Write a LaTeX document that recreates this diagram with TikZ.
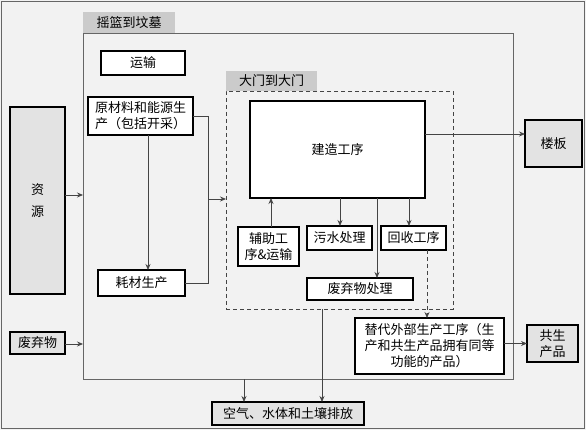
\documentclass[tikz,border=0pt]{standalone}
\usepackage{fontspec}
\setmainfont{Noto Sans CJK SC}
\usetikzlibrary{arrows.meta}
\definecolor{bg}{HTML}{F2F2F2}
\definecolor{tabgray}{HTML}{CBCBCB}
\definecolor{boxgray}{HTML}{E3E3E3}
\definecolor{linegray}{HTML}{444444}
\definecolor{framegray}{HTML}{666666}
\begin{document}
\begin{tikzpicture}[x=1pt,y=-1pt,
  every node/.style={font=\fontsize{13}{16}\selectfont, inner sep=0pt, outer sep=0pt},
  wbox/.style={draw=black, line width=1.3pt, fill=white, align=center},
  gbox/.style={draw=black, line width=1.3pt, fill=boxgray, align=center},
  frame/.style={draw=framegray, line width=0.9pt},
  tabbox/.style={fill=tabgray},
  arr/.style={draw=linegray, line width=0.8pt, -{Stealth[length=6pt,width=5pt]}},
  ln/.style={draw=linegray, line width=0.8pt},
]
\useasboundingbox (0,0) rectangle (586,430);
\fill[bg] (0,0) rectangle (586,430);
\draw[draw=framegray, line width=1pt] (1.5,1.5) rectangle (584.5,428.5);

% cradle to grave frame
\node[frame, minimum width=430pt, minimum height=346pt] (c2g) at (298,206) {};
\node[tabbox, minimum width=92pt, minimum height=21pt] (c2gtab) at (129,22.5) {摇篮到坟墓};

% gate to gate frame
\node[draw=linegray, line width=0.9pt, dash pattern=on 4pt off 3pt, minimum width=227pt, minimum height=218pt] (g2g) at (339.5,200) {};
\node[tabbox, minimum width=91pt, minimum height=20pt] (g2gtab) at (271.5,81) {大门到大门};

% boxes
\node[wbox, minimum width=84pt, minimum height=24pt] (trans) at (143,63) {运输};
\node[wbox, minimum width=105pt, minimum height=38pt, align=left] (raw) at (140.5,116) {原材料和能源生\\产（包括开采）};
\node[wbox, minimum width=87pt, minimum height=26pt] (cons) at (141.5,283) {耗材生产};
\node[gbox, minimum width=55pt, minimum height=187pt] (res) at (37.5,200.5) {资\\[6pt]源};
\node[gbox, minimum width=55pt, minimum height=22pt] (waste) at (37.5,343) {废弃物};
\node[wbox, minimum width=175pt, minimum height=97pt] (build) at (337.5,149.5) {建造工序};
\node[gbox, minimum width=57pt, minimum height=47pt] (slab) at (553.5,143.5) {楼板};
\node[wbox, minimum width=61pt, minimum height=39pt] (aux) at (268.5,246.5) {辅助工\\序\&运输};
\node[wbox, minimum width=65pt, minimum height=24pt] (sew) at (339.5,238) {污水处理};
\node[wbox, minimum width=65pt, minimum height=24pt] (rec) at (413.5,238) {回收工序};
\node[wbox, minimum width=106pt, minimum height=22pt] (wt) at (360,289) {废弃物处理};
\node[wbox, minimum width=149pt, minimum height=56pt] (alt) at (429.5,346) {替代外部生产工序（生\\产和共生产品拥有同等\\功能的产品）};
\node[gbox, minimum width=51pt, minimum height=37pt] (cop) at (552.5,343.5) {共生\\产品};
\node[gbox, minimum width=152pt, minimum height=23pt] (emis) at (288,413.5) {空气、水体和土壤排放};

% coordinates
\coordinate (j) at (208,283);
\coordinate (jm) at (208,199);
\coordinate (ry) at (0,195);
\coordinate (ws) at (0,344);
\coordinate (by) at (0,134);
\coordinate (xc) at (148,0);
\coordinate (x1) at (244,0);
\coordinate (x2) at (322,0);
\coordinate (xr) at (427,0);
\coordinate (xs) at (340,0);
\coordinate (xw) at (377,0);
\coordinate (xrc) at (409,0);
\coordinate (xa) at (271,0);

% connectors
\draw[arr] (res.east |- ry) -- (c2g.west |- ry);
\draw[arr] (waste.east |- ws) -- (c2g.west |- ws);
\draw[ln] (raw.east) -| (j) -- (cons.east);
\draw[arr] (jm) -- (g2g.west |- jm);
\draw[arr] (raw.south -| xc) -- (cons.north -| xc);
\draw[arr] (build.east |- by) -- (slab.west |- by);
\draw[arr] (build.south -| xs) -- (sew.north -| xs);
\draw[arr] (build.south -| xw) -- (wt.north -| xw);
\draw[arr] (build.south -| xrc) -- (rec.north -| xrc);
\draw[arr] (aux.north -| xa) -- (build.south -| xa);
\draw[arr, dash pattern=on 4pt off 3pt] (rec.south -| xr) -- (alt.north -| xr);
\draw[arr] (alt.east |- cop.west) -- (cop.west);
\draw[arr] (c2g.south -| x1) -- (emis.north -| x1);
\draw[arr] (g2g.south -| x2) -- (emis.north -| x2);
\end{tikzpicture}
\end{document}
